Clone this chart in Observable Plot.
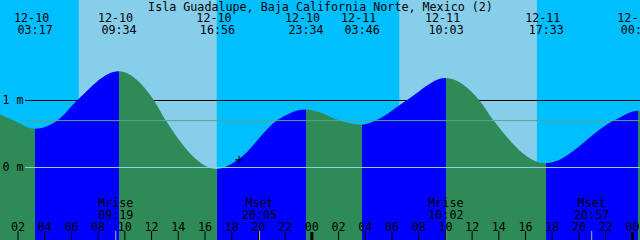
<!DOCTYPE html>
<html><head><meta charset="utf-8">
<script src="https://cdn.jsdelivr.net/npm/d3@7"></script>
<script src="https://cdn.jsdelivr.net/npm/@observablehq/plot@0.6"></script>
<style>
html,body{margin:0;padding:0;background:#fff;}
#chart{width:640px;height:240px;overflow:hidden;}
</style></head>
<body><div id="chart"></div>
<script>
const title = "Isla Guadalupe, Baja California Norte, Mexico (2)";

// tide extremes (date, time, level in metres)
const extremeDates = ["12-10", "12-10", "12-10", "12-10", "12-11", "12-11", "12-11", "12-12"];
const extremeTimes = ["03:17", "09:34", "16:56", "23:34", "03:46", "10:03", "17:33", "00:27"];
const extremeLevels = [0.57, 1.43, -0.03, 0.86, 0.63, 1.33, 0.055, 0.84];
const extremeKinds = ["low", "high", "low", "high", "low", "high", "low", "high"];

// further points
const curveStamps = ["12-10 00:30", "12-10 01:39", "12-10 05:02", "12-10 06:29", "12-10 12:12", "12-10 13:05",
  "12-10 18:33", "12-10 21:28", "12-11 00:30", "12-11 02:00", "12-11 04:53", "12-11 07:10",
  "12-11 12:34", "12-11 13:37", "12-11 22:43", "12-12 01:00"];
const curveLevels = [0.80, 0.70, 0.70, 1.00, 1.00, 0.70, 0.115, 0.70, 0.825, 0.70, 0.70, 1.00, 1.00, 0.70, 0.70, 0.83];

// marker on the curve
const markStamp = "12-10 18:33";
const markLevel = 0.115;

// sun
const sunriseStamps = ["12-10 06:35", "12-11 06:35"];
const sunsetStamps = ["12-10 16:55", "12-11 16:53"];

// moon
const moonDates = ["12-10", "12-10", "12-11", "12-11"];
const moonTimes = ["09:19", "20:05", "10:02", "20:57"];
const moonLabels = ["Mrise", "Mset", "Mrise", "Mset"];

// reference levels
const datumLevels = [1, 0];
const datumLabels = ["1 m", "0 m"];
const mslLevel = 0.70;

// hour axis (hours from 12-10 00:00)
const hourTicks = [2, 4, 6, 8, 10, 12, 14, 16, 18, 20, 22, 24, 26, 28, 30, 32, 34, 36, 38, 40, 42, 44, 46, 48];
const hourLabels = ["02", "04", "06", "08", "10", "12", "14", "16", "18", "20", "22", "00",
  "02", "04", "06", "08", "10", "12", "14", "16", "18", "20", "22", "00"];
const midnightTicks = [24, 48];

const NIGHT = "#00bfff", DAY = "#87ceeb", FLOOD = "#0000ff", EBB = "#2e8b57";
const DATUM = "#8ed2e8", MSL = "#5ba58c";
const FONT = "'DejaVu Sans Mono', 'Liberation Mono', monospace";
const FS = 11.7;

const hrs = (d, t) => (Number(d.slice(3, 5)) - 10) * 24 + Number(t.slice(0, 2)) + Number(t.slice(3, 5)) / 60;
const stampH = s => hrs(s.slice(0, 5), s.slice(6));

const extremes = extremeDates.map((d, i) => ({date: d, time: extremeTimes[i], h: hrs(d, extremeTimes[i]), v: extremeLevels[i], kind: extremeKinds[i]}));
const curve = extremes.map(e => ({h: e.h, v: e.v}))
  .concat(curveStamps.map((s, i) => ({h: stampH(s), v: curveLevels[i]})))
  .sort((a, b) => a.h - b.h);
const days = sunriseStamps.map((s, i) => ({x1: stampH(s), x2: stampH(sunsetStamps[i])}));
const moon = moonDates.map((d, i) => ({h: hrs(d, moonTimes[i]), label: moonLabels[i], time: moonTimes[i]}));
const datums = datumLevels.map((v, i) => ({v, label: datumLabels[i]}));
const mark = [{h: stampH(markStamp), v: markLevel}];
const plainTicks = hourTicks.filter(h => !midnightTicks.includes(h));

const xDomain = [0.69, 48.605];
const yDomain = [-1.0896, 2.4925];

const txt = {fontFamily: FONT, fontSize: FS, fill: "black"};

const plot = Plot.plot({
  width: 640, height: 240,
  marginTop: 0, marginRight: 0, marginBottom: 0, marginLeft: 0,
  style: {fontFamily: FONT, fontSize: FS + "px", background: NIGHT, overflow: "hidden"},
  x: {domain: xDomain, axis: null},
  y: {domain: yDomain, axis: null},
  marks: [
    Plot.frame({fill: NIGHT, stroke: "none"}),
    Plot.rect(days, {x1: "x1", x2: "x2", fill: DAY}),
    Plot.ruleY([1], {stroke: "black", insetLeft: 25}),
    Plot.areaY(curve, {x: "h", y1: yDomain[0], y2: "v", curve: "monotone-x", fill: "url(#tideFill)", clip: true}),
    Plot.ruleY([mslLevel], {stroke: MSL, insetLeft: 25}),
    Plot.ruleY([0], {stroke: DATUM, insetLeft: 25}),
    Plot.dot(mark, {x: "h", y: "v", symbol: "plus", r: 2.7, stroke: "black", strokeWidth: 1}),
    Plot.text([title], {text: d => d, frameAnchor: "top", lineAnchor: "bottom", dy: 10, ...txt}),
    Plot.text(extremes, {x: "h", text: "date", frameAnchor: "top", lineAnchor: "bottom", dy: 21, dx: -3.5, ...txt}),
    Plot.text(extremes, {x: "h", text: "time", frameAnchor: "top", lineAnchor: "bottom", dy: 33, ...txt}),
    Plot.text(datums, {y: "v", text: "label", frameAnchor: "left", textAnchor: "start", lineAnchor: "bottom", dx: 2, dy: 4, ...txt}),
    Plot.text(moon, {x: "h", text: "label", frameAnchor: "bottom", lineAnchor: "bottom", dy: -34, ...txt}),
    Plot.text(moon, {x: "h", text: "time", frameAnchor: "bottom", lineAnchor: "bottom", dy: -22, ...txt}),
    Plot.text(hourTicks, {x: d => d, text: (d, i) => hourLabels[i], frameAnchor: "bottom", lineAnchor: "bottom", dy: -10, ...txt}),
    Plot.ruleX(moon, {x: "h", stroke: "#b0b0b0", insetTop: 231}),
    Plot.ruleX(plainTicks, {x: d => d, stroke: "black", insetTop: 231}),
    Plot.ruleX(midnightTicks, {x: d => d, stroke: "black", strokeWidth: 3, insetTop: 232})
  ]
});

document.getElementById("chart").appendChild(plot);

// flood/ebb fill split at the extremes, positioned through the x scale
const xs = plot.scale("x");
const W = 640;
const defs = d3.select(plot).insert("defs", ":first-child");
const grad = defs.append("linearGradient")
  .attr("id", "tideFill")
  .attr("gradientUnits", "userSpaceOnUse")
  .attr("x1", 0).attr("x2", W).attr("y1", 0).attr("y2", 0);
let color = extremes[0].kind === "low" ? EBB : FLOOD;
grad.append("stop").attr("offset", 0).attr("stop-color", color);
for (const e of extremes) {
  const off = Math.max(0, Math.min(1, xs.apply(e.h) / W));
  grad.append("stop").attr("offset", off).attr("stop-color", color);
  color = e.kind === "low" ? FLOOD : EBB;
  grad.append("stop").attr("offset", off).attr("stop-color", color);
}
grad.append("stop").attr("offset", 1).attr("stop-color", color);
</script>
</body></html>
